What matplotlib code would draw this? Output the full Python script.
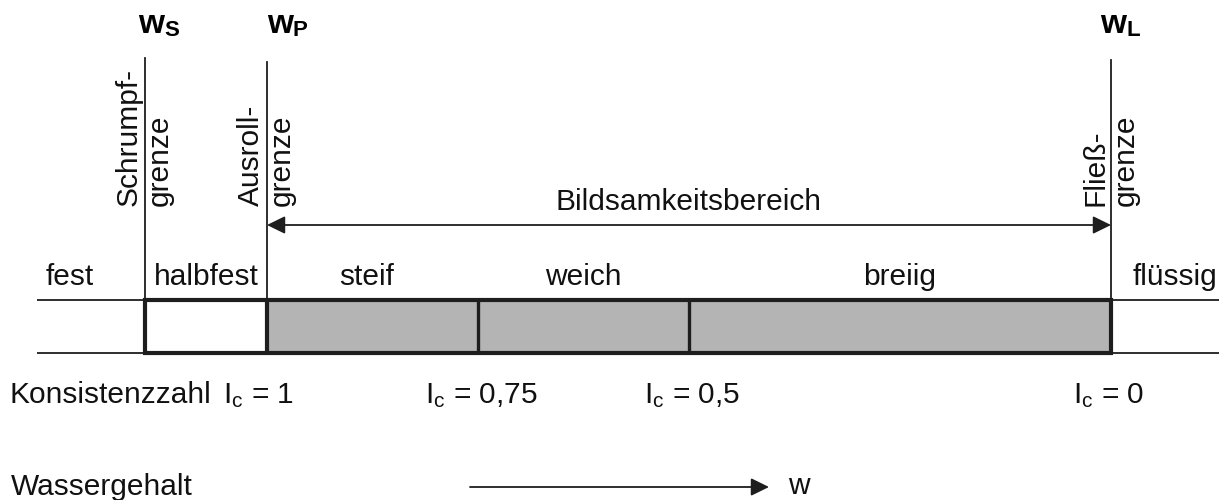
import matplotlib
matplotlib.use("Agg")
import matplotlib.pyplot as plt
from matplotlib.patches import Rectangle

plt.rcParams['font.family'] = ['Liberation Sans', 'DejaVu Sans']
plt.rcParams['mathtext.fontset'] = 'custom'
plt.rcParams['mathtext.rm'] = 'Liberation Sans'
plt.rcParams['mathtext.it'] = 'Liberation Sans:italic'
plt.rcParams['mathtext.bf'] = 'Liberation Sans:bold'

# ---------------- data ----------------
limit_names = ['Schrumpf-', 'Ausroll-', 'Fließ-']
limit_symbols = ['S', 'P', 'L']
limit_ic = [1.1445, 1.0, 0.0]               # consistency index at each limit
state_labels = ['fest', 'halbfest', 'steif', 'weich', 'breiig', 'flüssig']
state_bounds_ic = [1.1445, 1.0, 0.75, 0.5, 0.0]
ic_ticks = [1.0, 0.75, 0.5, 0.0]
ic_tick_labels = ['1', '0,75', '0,5', '0']
range_label = 'Bildsamkeitsbereich'

# ---------------- layout ----------------
W, H = 1226, 500
X0, SC = 267.0, 844.0          # pixel of Ic=1 and pixel length of Ic 1 -> 0

def xd(ic):                     # data coordinate (1 - Ic)
    return 1.0 - ic

def pxd(p):                     # pixel x to data
    return (p - X0) / SC

fig = plt.figure(figsize=(W / 100, H / 100), dpi=100)
ax = fig.add_axes([0, 0, 1, 1])
ax.set_xlim(pxd(0), pxd(W))
ax.set_ylim(H, 0)
ax.axis('off')

TXT = '#111111'
LN = '#1e1e1e'
FS = 21.5

bar_top, bar_bot = 300, 353
left_end, right_end = pxd(37), pxd(1219)

# thin outer lines
for y in (bar_top, bar_bot):
    ax.plot([left_end, xd(state_bounds_ic[0])], [y, y], color=LN, lw=1.3, solid_capstyle='butt')
    ax.plot([xd(state_bounds_ic[-1]), right_end], [y, y], color=LN, lw=1.3, solid_capstyle='butt')

# gray plastic range
ax.add_patch(Rectangle((xd(1.0), bar_top), xd(0.0) - xd(1.0), bar_bot - bar_top,
                       facecolor='#b4b4b4', edgecolor='none', zorder=1))
# thick box
ax.add_patch(Rectangle((xd(state_bounds_ic[0]), bar_top), xd(0.0) - xd(state_bounds_ic[0]),
                       bar_bot - bar_top, facecolor='none', edgecolor=LN, lw=3.0, zorder=3))
for ic in state_bounds_ic[1:-1]:
    ax.plot([xd(ic), xd(ic)], [bar_top, bar_bot], color=LN,
            lw=3.0 if ic == 1.0 else 2.4, zorder=3, solid_capstyle='butt')

# vertical limit lines
line_tops = [58, 62, 60]
for ic, top in zip(limit_ic, line_tops):
    ax.plot([xd(ic), xd(ic)], [top, bar_top], color=LN, lw=1.3, zorder=2)

# rotated limit labels
for ic, name in zip(limit_ic, limit_names):
    x = xd(ic)
    ax.text(x - 8 / SC, 206, name, rotation=90, rotation_mode='anchor',
            ha='left', va='baseline', fontsize=FS, color=TXT)
    ax.text(x + 23 / SC, 206, 'grenze', rotation=90, rotation_mode='anchor',
            ha='left', va='baseline', fontsize=FS, color=TXT)

# top symbols w_S, w_P, w_L
sym_offsets = [-7, 0, -11]
for ic, s, off in zip(limit_ic, limit_symbols, sym_offsets):
    x = xd(ic) + off / SC
    ax.text(x, 33, 'w', fontsize=24, fontweight='bold', ha='left', va='baseline', color='black')
    ax.text(x + 26 / SC, 36, s, fontsize=16, fontweight='bold', ha='left', va='baseline', color='black')

# Bildsamkeitsbereich arrow
ax.annotate('', xy=(xd(1.0), 225), xytext=(xd(0.0), 225),
            arrowprops=dict(arrowstyle='<|-|>,head_length=0.55,head_width=0.27',
                            mutation_scale=20, color=LN, lw=1.3, shrinkA=0, shrinkB=0))
ax.text((xd(1.0) + xd(0.0)) / 2, 210, range_label, ha='center', va='baseline',
        fontsize=FS, color=TXT)

# state labels
centers = [pxd(70)]
for a, b in zip(state_bounds_ic[:-1], state_bounds_ic[1:]):
    centers.append((xd(a) + xd(b)) / 2)
centers.append(pxd(1175))
centers[2] = pxd(367)
for c, lab in zip(centers, state_labels):
    ax.text(c, 285, lab, ha='center', va='baseline', fontsize=FS, color=TXT)

# Konsistenzzahl row
ax.text(pxd(10), 403, 'Konsistenzzahl', ha='left', va='baseline', fontsize=FS, color=TXT)
ic_offsets = [-44, -53, -45, -38]
for ic, lab, off in zip(ic_ticks, ic_tick_labels, ic_offsets):
    ax.text(xd(ic) + off / SC, 403, r'I$_{\mathrm{c}}$ = ' + lab, ha='left', va='baseline',
            fontsize=FS, color=TXT)

# Wassergehalt row
ax.text(pxd(11), 495, 'Wassergehalt', ha='left', va='baseline', fontsize=FS, color=TXT)
ax.annotate('', xy=(pxd(769), 487), xytext=(pxd(470), 487),
            arrowprops=dict(arrowstyle='-|>,head_length=0.55,head_width=0.27',
                            mutation_scale=20, color=LN, lw=1.3, shrinkA=0, shrinkB=0))
ax.text(pxd(788), 494, 'w', ha='left', va='baseline', fontsize=FS, color=TXT)

fig.savefig('out.png', dpi=100, facecolor='white')
